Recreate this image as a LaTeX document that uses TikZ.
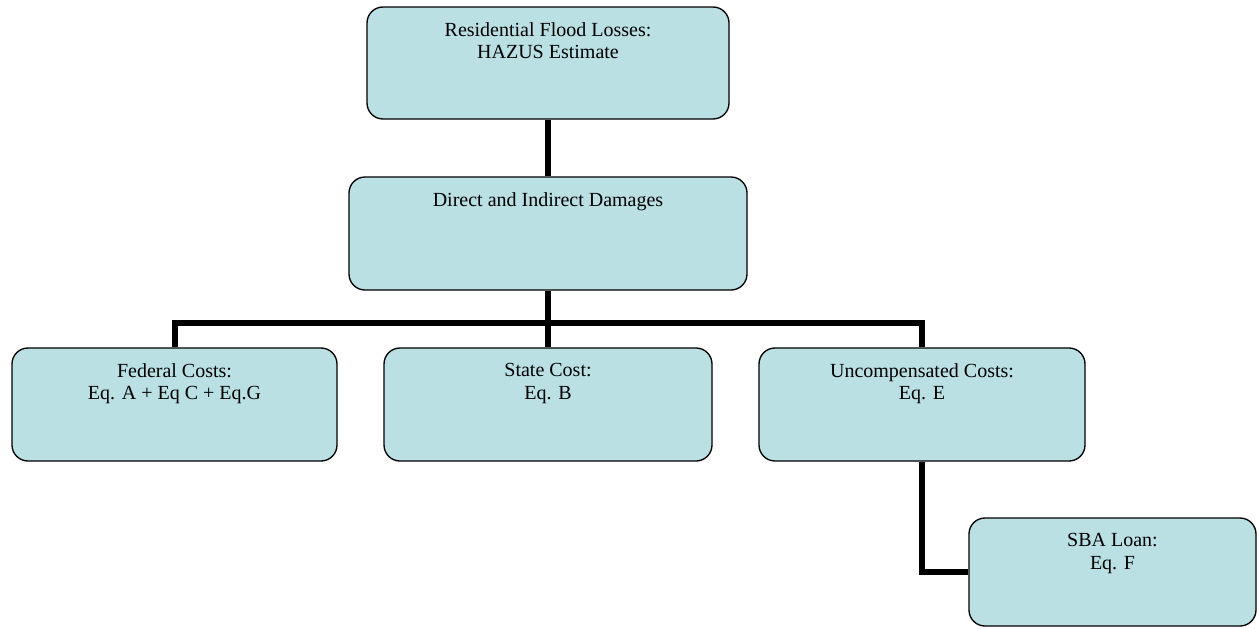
\documentclass[tikz,border=0pt]{standalone}
\usepackage{fontspec}
\setmainfont{Liberation Serif}
\definecolor{boxfill}{RGB}{186,224,227}
\begin{document}
\begin{tikzpicture}[x=0.75pt,y=-0.75pt,
  box/.style={draw=black,line width=1pt,fill=boxfill,rounded corners=12pt,inner sep=0pt},
  conn/.style={draw=black,line width=4.5pt,line join=miter},
  boxtext/.style={anchor=north,inner sep=0pt,align=center,yshift=-11.7pt,
    font=\fontsize{15}{17}\selectfont}]
\useasboundingbox (0,0) rectangle (1259,628);
\node[box,minimum width=271.5pt,minimum height=84pt,
  label={[boxtext]north:Residential Flood Losses:\\HAZUS Estimate}] (top) at (548,63) {};
\node[box,minimum width=298.5pt,minimum height=84.75pt,
  label={[boxtext]north:Direct and Indirect Damages}] (mid) at (548,233.5) {};
\node[box,minimum width=243.75pt,minimum height=84.75pt,
  label={[boxtext]north:Federal Costs:\\Eq. A + Eq C + Eq.G}] (fed) at (174.5,404.5) {};
\node[box,minimum width=246pt,minimum height=84.75pt,
  label={[boxtext]north:State Cost:\\Eq. B}] (state) at (548,404.5) {};
\node[box,minimum width=244.5pt,minimum height=84.75pt,
  label={[boxtext]north:Uncompensated Costs:\\Eq. E}] (unc) at (922,404.5) {};
\node[box,minimum width=215.25pt,minimum height=81pt,
  label={[boxtext]north:SBA Loan:\\Eq. F}] (sba) at (1112.5,572) {};
\coordinate (bus) at (548,323);
\draw[conn] (top.south) -- (mid.north);
\draw[conn] (mid.south) -- (state.north);
\draw[conn] (fed.north) |- (bus) -| (unc.north);
\draw[conn] (unc.south) |- (sba.west);
\end{tikzpicture}
\end{document}
